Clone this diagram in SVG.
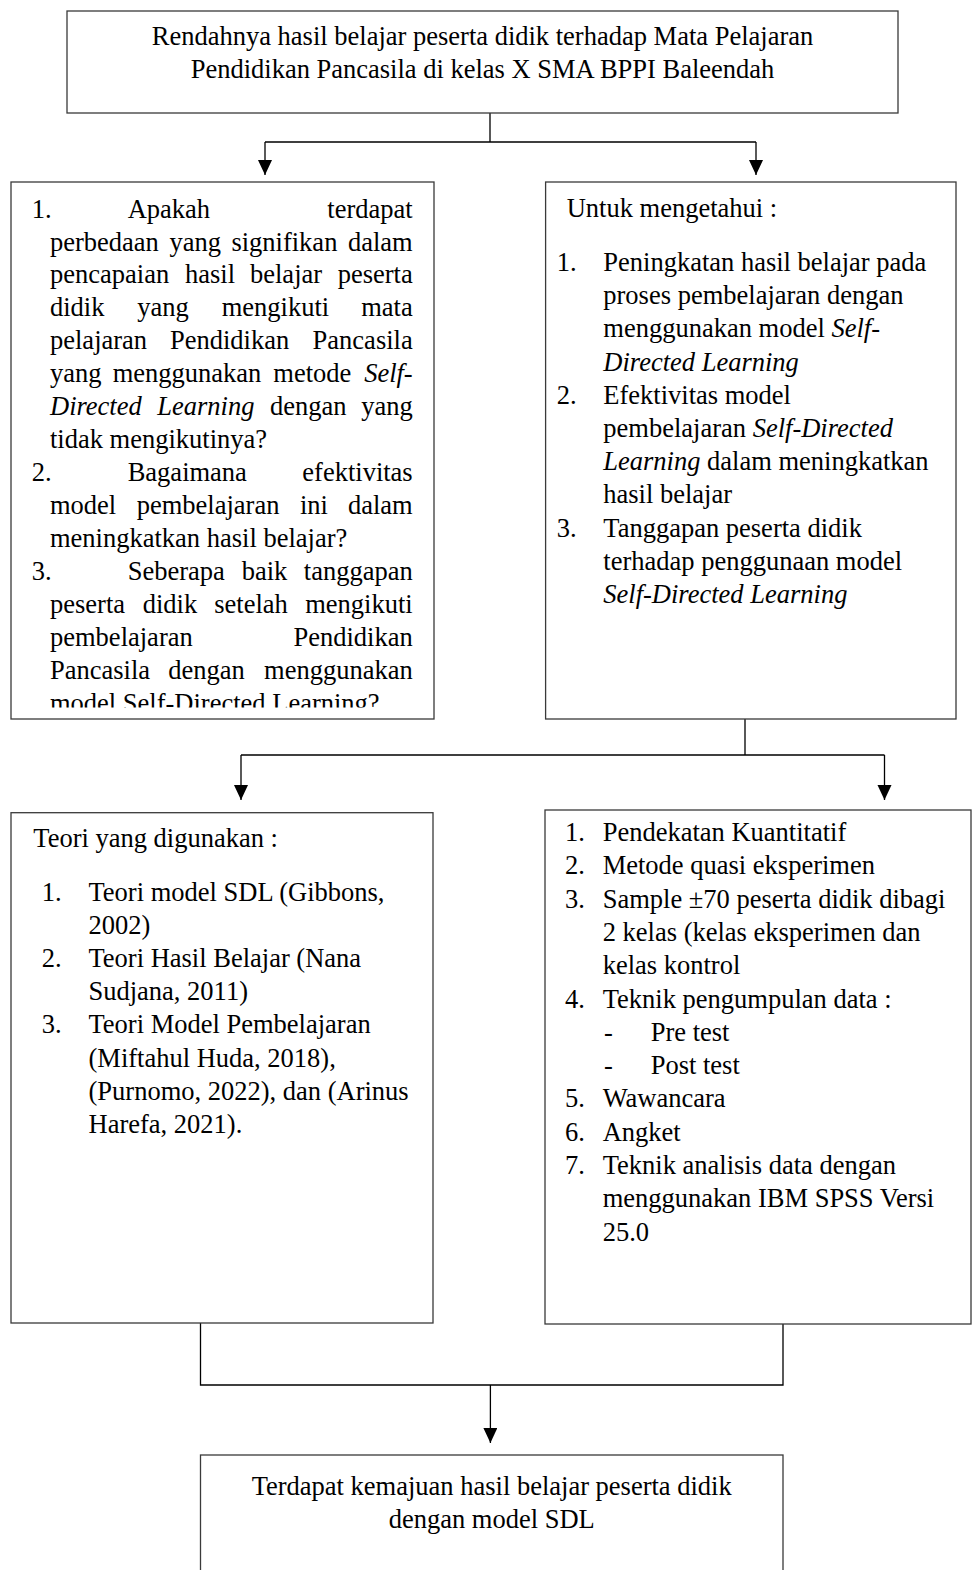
<svg xmlns="http://www.w3.org/2000/svg" width="973" height="1570" viewBox="0 0 973 1570">
<style>
.box{fill:#fff;stroke:#3a3a3a;stroke-width:1.3}
.t{font-family:"Liberation Serif","Times New Roman",serif;font-size:26.5px;fill:#000}
.m{text-anchor:middle}
.e{text-anchor:end}
.i{font-style:italic}
.c{stroke:#000;stroke-width:1.3;fill:none}
</style>
<defs>
<marker id="ah" markerUnits="userSpaceOnUse" markerWidth="16" markerHeight="15" refX="15" refY="7" orient="auto">
<path d="M0,0 L15,7 L0,14 z" fill="#000"/>
</marker>
<clipPath id="clipL"><rect x="11" y="182" width="423" height="525.5"/></clipPath>
</defs>

<g id="connectors">
<path class="c" d="M490,113 V142 M265,142 H756"/>
<path class="c" d="M265,142 V175" marker-end="url(#ah)"/>
<path class="c" d="M756,142 V175" marker-end="url(#ah)"/>
<path class="c" d="M745,719 V755 M241,755 H884.5"/>
<path class="c" d="M241,755 V800" marker-end="url(#ah)"/>
<path class="c" d="M884.5,755 V800" marker-end="url(#ah)"/>
<path class="c" d="M200.5,1323 V1385 H783 V1324"/>
<path class="c" d="M490.4,1385 V1443" marker-end="url(#ah)"/>
</g>

<g id="node-problem">
<rect class="box" x="67" y="11" width="831" height="102"/>
<text class="t m" x="482.5" y="44.5">Rendahnya hasil belajar peserta didik terhadap Mata Pelajaran</text>
<text class="t m" x="482.5" y="78">Pendidikan Pancasila di kelas X SMA BPPI Baleendah</text>
</g>

<g id="node-questions">
<rect class="box" x="11" y="182" width="423" height="537"/>
<g clip-path="url(#clipL)">
<text class="t" y="217.5"><tspan x="31.7">1.</tspan><tspan x="127.7">Apakah</tspan></text>
<text class="t e" x="412.7" y="217.5">terdapat</text>
<text class="t" y="250.5"><tspan x="50">perbedaan</tspan><tspan x="169.6">yang</tspan><tspan x="231.4">signifikan</tspan></text>
<text class="t e" x="412.7" y="250.5">dalam</text>
<text class="t" y="283.4"><tspan x="50">pencapaian</tspan><tspan x="185">hasil</tspan><tspan x="250">belajar</tspan></text>
<text class="t e" x="412.7" y="283.4">peserta</text>
<text class="t" y="316.4"><tspan x="50">didik</tspan><tspan x="137.3">yang</tspan><tspan x="221.7">mengikuti</tspan></text>
<text class="t e" x="412.7" y="316.4">mata</text>
<text class="t" y="349.3"><tspan x="50">pelajaran</tspan><tspan x="170">Pendidikan</tspan></text>
<text class="t e" x="412.7" y="349.3">Pancasila</text>
<text class="t" y="382.3"><tspan x="50">yang</tspan><tspan x="112.7">menggunakan</tspan><tspan x="273.3">metode</tspan></text>
<text class="t e i" x="412.7" y="382.3">Self-</text>
<text class="t" y="415.2"><tspan x="50" class="i">Directed</tspan><tspan x="157.3" class="i">Learning</tspan><tspan x="270">dengan</tspan></text>
<text class="t e" x="412.7" y="415.2">yang</text>
<text class="t" x="50" y="448.2">tidak mengikutinya?</text>
<text class="t" y="481.1"><tspan x="31.7">2.</tspan><tspan x="127.7">Bagaimana</tspan></text>
<text class="t e" x="412.7" y="481.1">efektivitas</text>
<text class="t" y="514.1"><tspan x="50">model</tspan><tspan x="136.7">pembelajaran</tspan><tspan x="300">ini</tspan></text>
<text class="t e" x="412.7" y="514.1">dalam</text>
<text class="t" x="50" y="547">meningkatkan hasil belajar?</text>
<text class="t" y="580"><tspan x="31.7">3.</tspan><tspan x="127.7">Seberapa</tspan><tspan x="241.7">baik</tspan></text>
<text class="t e" x="412.7" y="580">tanggapan</text>
<text class="t" y="613"><tspan x="50">peserta</tspan><tspan x="142.7">didik</tspan><tspan x="214.3">setelah</tspan></text>
<text class="t e" x="412.7" y="613">mengikuti</text>
<text class="t" x="50" y="645.9">pembelajaran</text>
<text class="t e" x="412.7" y="645.9">Pendidikan</text>
<text class="t" y="678.8"><tspan x="50">Pancasila</tspan><tspan x="168.3">dengan</tspan></text>
<text class="t e" x="412.7" y="678.8">menggunakan</text>
<text class="t" x="50" y="711.8">model Self-Directed Learning?</text>
</g>
</g>

<g id="node-objectives">
<rect class="box" x="545.6" y="182" width="410.4" height="537"/>
<text class="t" x="566.7" y="216.5">Untuk mengetahui :</text>
<text class="t" x="556.7" y="271">1.</text>
<text class="t" x="603.3" y="271">Peningkatan hasil belajar pada</text>
<text class="t" x="603.3" y="304.2">proses pembelajaran dengan</text>
<text class="t" x="603.3" y="337.4">menggunakan model <tspan class="i">Self-</tspan></text>
<text class="t i" x="603.3" y="370.6">Directed Learning</text>
<text class="t" x="556.7" y="403.8">2.</text>
<text class="t" x="603.3" y="403.8">Efektivitas model</text>
<text class="t" x="603.3" y="437">pembelajaran <tspan class="i">Self-Directed</tspan></text>
<text class="t" x="603.3" y="470.2"><tspan class="i">Learning</tspan> dalam meningkatkan</text>
<text class="t" x="603.3" y="503.4">hasil belajar</text>
<text class="t" x="556.7" y="536.6">3.</text>
<text class="t" x="603.3" y="536.6">Tanggapan peserta didik</text>
<text class="t" x="603.3" y="569.8">terhadap penggunaan model</text>
<text class="t i" x="603.3" y="603">Self-Directed Learning</text>
</g>

<g id="node-theory">
<rect class="box" x="11" y="812.7" width="422" height="510.3"/>
<text class="t" x="33.3" y="847">Teori yang digunakan :</text>
<text class="t" x="41.7" y="901">1.</text>
<text class="t" x="88.5" y="901">Teori model SDL (Gibbons,</text>
<text class="t" x="88.5" y="934">2002)</text>
<text class="t" x="41.7" y="967">2.</text>
<text class="t" x="88.5" y="967">Teori Hasil Belajar (Nana</text>
<text class="t" x="88.5" y="1000">Sudjana, 2011)</text>
<text class="t" x="41.7" y="1033">3.</text>
<text class="t" x="88.5" y="1033">Teori Model Pembelajaran</text>
<text class="t" x="88.5" y="1066.5">(Miftahul Huda, 2018),</text>
<text class="t" x="88.5" y="1100">(Purnomo, 2022), dan (Arinus</text>
<text class="t" x="88.5" y="1133">Harefa, 2021).</text>
</g>

<g id="node-method">
<rect class="box" x="545" y="810" width="426" height="514"/>
<text class="t" x="565" y="841">1.</text>
<text class="t" x="602.7" y="841">Pendekatan Kuantitatif</text>
<text class="t" x="565" y="874.3">2.</text>
<text class="t" x="602.7" y="874.3">Metode quasi eksperimen</text>
<text class="t" x="565" y="907.6">3.</text>
<text class="t" x="602.7" y="907.6">Sample ±70 peserta didik dibagi</text>
<text class="t" x="602.7" y="940.9">2 kelas (kelas eksperimen dan</text>
<text class="t" x="602.7" y="974.2">kelas kontrol</text>
<text class="t" x="565" y="1007.5">4.</text>
<text class="t" x="602.7" y="1007.5">Teknik pengumpulan data :</text>
<text class="t" x="604" y="1040.8">-</text>
<text class="t" x="650.7" y="1040.8">Pre test</text>
<text class="t" x="604" y="1074.1">-</text>
<text class="t" x="650.7" y="1074.1">Post test</text>
<text class="t" x="565" y="1107.4">5.</text>
<text class="t" x="602.7" y="1107.4">Wawancara</text>
<text class="t" x="565" y="1140.7">6.</text>
<text class="t" x="602.7" y="1140.7">Angket</text>
<text class="t" x="565" y="1174">7.</text>
<text class="t" x="602.7" y="1174">Teknik analisis data dengan</text>
<text class="t" x="602.7" y="1207.3">menggunakan IBM SPSS Versi</text>
<text class="t" x="602.7" y="1240.6">25.0</text>
</g>

<g id="node-result">
<rect class="box" x="200.5" y="1455" width="582.5" height="130"/>
<text class="t m" x="491.7" y="1495">Terdapat kemajuan hasil belajar peserta didik</text>
<text class="t m" x="491.7" y="1528">dengan model SDL</text>
</g>
</svg>
